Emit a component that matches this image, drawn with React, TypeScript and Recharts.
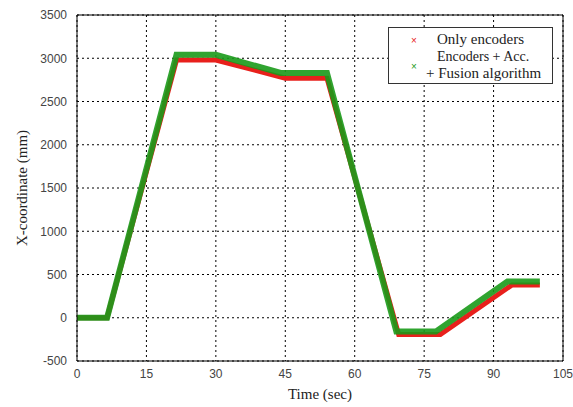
import { LineChart, Line, XAxis, YAxis, CartesianGrid, ReferenceLine } from 'recharts';

// time (sec) and X-coordinate (mm)
const encTime = [0, 6.5, 21.5, 30, 45, 54, 69.5, 78.5, 94, 100];
const encX = [0, 0, 2980, 2980, 2770, 2770, -195, -195, 380, 380];
const fusTime = [0, 6.5, 21.5, 30, 44, 54, 69, 77.5, 93, 100];
const fusX = [0, 0, 3040, 3040, 2830, 2830, -160, -160, 420, 420];

const xTicks = [0, 15, 30, 45, 60, 75, 90, 105];
const yTicks = [-500, 0, 500, 1000, 1500, 2000, 2500, 3000, 3500];

const encData = encTime.map((t, i) => ({ t, x: encX[i] }));
const fusData = fusTime.map((t, i) => ({ t, x: fusX[i] }));

const tickStyle = { fontFamily: 'Liberation Sans, Arial, sans-serif', fontSize: 12, fill: '#444' };
const serif = 'Liberation Serif, Times New Roman, serif';

export default function App() {
  return (
    <div style={{ position: 'absolute', left: 0, top: 0, width: 573, height: 407, background: '#fff' }}>
      <LineChart width={573} height={407} margin={{ top: 15, right: 10, left: 0, bottom: 0 }}>
        <CartesianGrid stroke="#000" strokeDasharray="2 3" strokeWidth={1} />
        <XAxis
          type="number"
          dataKey="t"
          domain={[0, 105]}
          ticks={xTicks}
          height={46}
          tickLine={false}
          axisLine={{ stroke: '#000' }}
          tick={tickStyle}
          tickMargin={2}
          label={{ value: 'Time (sec)', position: 'insideBottom', offset: 8, style: { fontFamily: serif, fontSize: 15, fill: '#222' } }}
        />
        <YAxis
          type="number"
          domain={[-500, 3500]}
          ticks={yTicks}
          width={77}
          tickLine={false}
          axisLine={{ stroke: '#000' }}
          tick={tickStyle}
          tickMargin={4}
          label={{ value: 'X-coordinate (mm)', angle: -90, position: 'insideLeft', offset: 22, style: { fontFamily: serif, fontSize: 15, fill: '#222', textAnchor: 'middle' } }}
        />
        <ReferenceLine y={3500} stroke="#000" />
        <ReferenceLine x={105} stroke="#000" />
        <Line data={encData} dataKey="x" type="linear" stroke="#e8201c" strokeWidth={5} dot={false} isAnimationActive={false} />
        <Line data={fusData} dataKey="x" type="linear" stroke="#1a9a1a" strokeWidth={6} strokeOpacity={0.9} dot={false} isAnimationActive={false} />
      </LineChart>
      <div
        style={{
          position: 'absolute',
          left: 388,
          top: 27,
          width: 165,
          height: 57,
          border: '1px solid #333',
          background: '#fff',
          fontFamily: serif,
          fontSize: 15,
          color: '#222',
          boxSizing: 'border-box',
          lineHeight: '17px',
        }}
      >
        <span style={{ position: 'absolute', left: 22, top: 4, color: '#e8201c', fontFamily: 'Liberation Sans, sans-serif', fontSize: 10 }}>×</span>
        <span style={{ position: 'absolute', left: 48, top: 3 }}>Only encoders</span>
        <span style={{ position: 'absolute', left: 22, top: 30, color: '#1a9a1a', fontFamily: 'Liberation Sans, sans-serif', fontSize: 10 }}>×</span>
        <span style={{ position: 'absolute', left: 48, top: 20, fontSize: 14 }}>Encoders + Acc.</span>
        <span style={{ position: 'absolute', left: 37, top: 37 }}>+ Fusion algorithm</span>
      </div>
    </div>
  );
}
